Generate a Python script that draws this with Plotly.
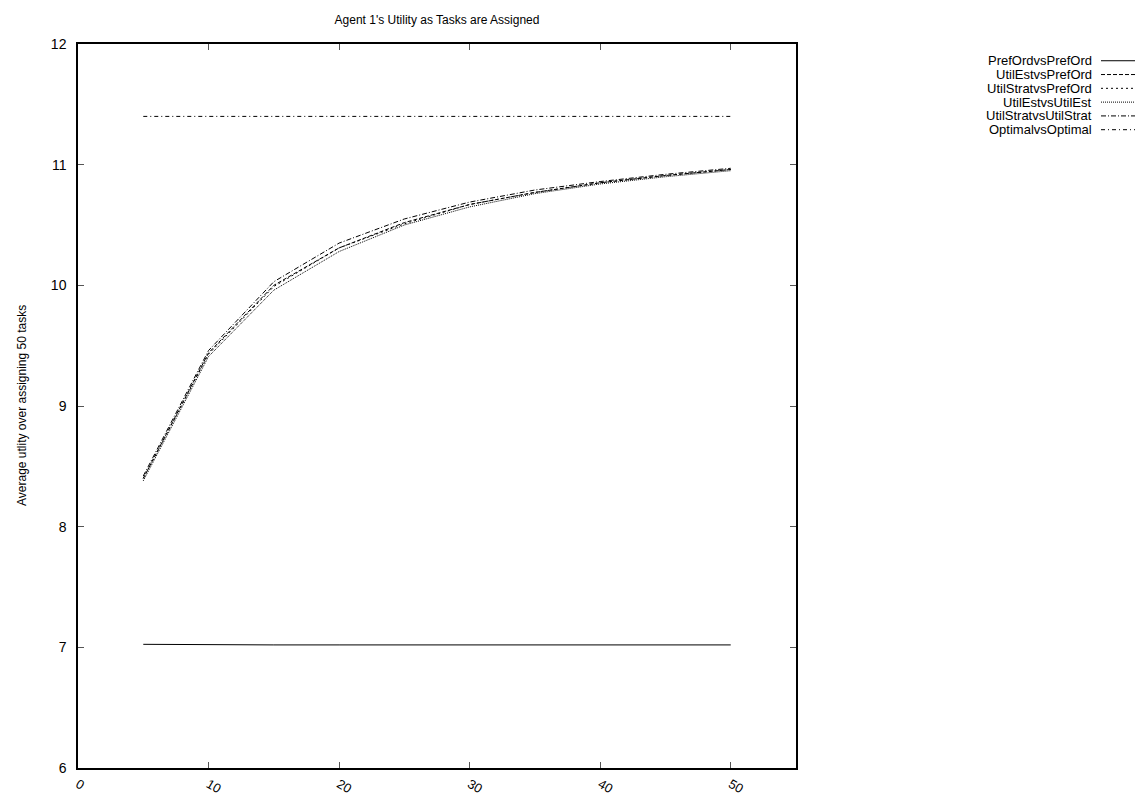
import plotly.graph_objects as go

# ---- data ----
tasks = [5, 10, 15, 20, 25, 30, 35, 40, 45, 50]
series_names = ["PrefOrdvsPrefOrd", "UtilEstvsPrefOrd", "UtilStratvsPrefOrd",
                "UtilEstvsUtilEst", "UtilStratvsUtilStrat", "OptimalvsOptimal"]
pref_ord = [7.025, 7.02, 7.02, 7.02, 7.02, 7.02, 7.02, 7.02, 7.02, 7.02]
util_est_pref = [8.40, 9.44, 10.00, 10.31, 10.52, 10.67, 10.77, 10.85, 10.91, 10.96]
util_strat_pref = [8.40, 9.43, 9.99, 10.31, 10.51, 10.67, 10.77, 10.85, 10.91, 10.96]
util_est_est = [8.38, 9.41, 9.96, 10.28, 10.50, 10.65, 10.76, 10.84, 10.90, 10.95]
util_strat_strat = [8.42, 9.46, 10.03, 10.35, 10.55, 10.69, 10.79, 10.86, 10.92, 10.97]
optimal = [11.40, 11.40, 11.40, 11.40, 11.40, 11.40, 11.40, 11.40, 11.40, 11.40]
x_ticks = [0, 10, 20, 30, 40, 50]
y_ticks = [6, 7, 8, 9, 10, 11, 12]

values = [pref_ord, util_est_pref, util_strat_pref, util_est_est, util_strat_strat, optimal]
dashes = ["solid", "4px,2px", "2px,3px", "1px,1px", "5px,2px,1px,2px", "4px,3px,1px,3px"]

W, H = 1143, 800
L, R, T, B = 70, 355, 36, 29
pw, ph = W - L - R, H - T - B

fig = go.Figure()
for name, vals, d in zip(series_names, values, dashes):
    fig.add_trace(go.Scatter(x=tasks, y=vals, mode="lines", name=name,
                             line=dict(color="black", width=1, dash=d),
                             showlegend=False))

# gnuplot-style legend (text left, sample right)
font = "Liberation Sans, Arial, sans-serif"
for i, (name, d) in enumerate(zip(series_names, dashes)):
    py = 53 + i * 14
    yp = (H - B - py) / ph
    fig.add_annotation(xref="paper", yref="paper", x=(1086 - L) / pw, y=yp,
                       text=name, showarrow=False, xanchor="right", yanchor="middle",
                       font=dict(family=font, size=13, color="black"))
    fig.add_shape(type="line", xref="paper", yref="paper",
                  x0=(1093 - L) / pw, x1=(1136 - L) / pw, y0=yp, y1=yp,
                  line=dict(color="black", width=1, dash=d))

fig.add_annotation(xref="paper", yref="paper", x=(14 - L) / pw, y=0.5,
                   text="Average utlity over assigning 50 tasks", textangle=-90,
                   showarrow=False, xanchor="center", yanchor="middle",
                   font=dict(family=font, size=12, color="black"))

fig.update_layout(
    width=W, height=H,
    margin=dict(l=L, r=R, t=T, b=B),
    paper_bgcolor="white", plot_bgcolor="white",
    title=dict(text="Agent 1's Utility as Tasks are Assigned", x=(429) / W, xanchor="center",
               y=1 - 12 / H, yanchor="middle",
               font=dict(family=font, size=12, color="black")),
    font=dict(family=font, size=13, color="black"),
)
fig.update_xaxes(range=[0, 55], tickvals=x_ticks, ticktext=[str(v) for v in x_ticks],
                 tickangle=30, ticks="inside", ticklen=6, tickcolor="#555",
                 showline=True, linecolor="black", linewidth=1.5, mirror="allticks",
                 showgrid=False, zeroline=False, ticklabelstandoff=2,
                 tickfont=dict(family=font, size=13, color="black"))
fig.update_yaxes(range=[6, 12], tickvals=y_ticks, ticks="inside", ticklen=6, tickcolor="#555",
                 showline=True, linecolor="black", linewidth=1.5, mirror="allticks",
                 showgrid=False, zeroline=False, ticklabelstandoff=7,
                 tickfont=dict(family=font, size=14, color="black"))

fig.write_html("out.html")
